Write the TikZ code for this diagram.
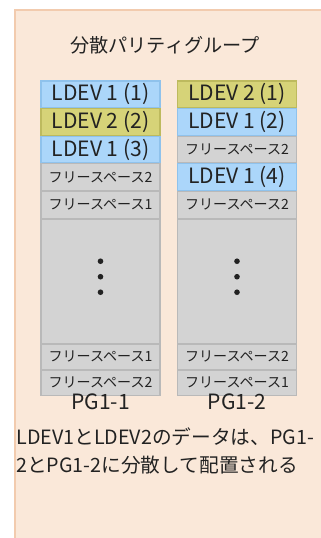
\documentclass[tikz,border=0pt]{standalone}
\usepackage{fontspec}
\setmainfont{Noto Sans CJK JP}
\usetikzlibrary{positioning}
\definecolor{ink}{HTML}{222222}
\definecolor{panel}{HTML}{FAE8D9}
\definecolor{paneldk}{HTML}{F2CBAE}
\definecolor{blu}{HTML}{ABD6FA}
\definecolor{bludk}{HTML}{8FC2EC}
\definecolor{olv}{HTML}{D6D378}
\definecolor{olvdk}{HTML}{BDBA5E}
\definecolor{gry}{HTML}{D3D3D3}
\definecolor{grydk}{HTML}{B9B9B9}
\tikzset{
  cell/.style={rectangle, draw=#1dk, fill=#1, line width=0.6pt, inner sep=0pt,
    minimum width=2.38cm, minimum height=0.532cm, text=ink,
    font=\fontsize{12}{13}\selectfont},
  cell/.default=blu,
  free/.style={cell=gry, font=\fontsize{8}{10}\selectfont},
  gap/.style={cell=gry, minimum height=2.48cm},
  low/.style={free, minimum height=0.5cm},
  pgl/.style={font=\fontsize{12}{13}\selectfont, text=ink, inner sep=0pt},
}
\begin{document}
\begin{tikzpicture}[x=0.02cm,y=-0.02cm]
  \useasboundingbox (0,0) rectangle (321,538);
  \draw[fill=panel, draw=paneldk, line width=0.8pt] (15,10) rectangle (340,560);
  \node[pgl, font=\fontsize{10.9}{12}\selectfont] (title) at (165,45) {分散パリティグループ};

  % PG1-1
  \node[cell=blu] (a1) at (100.5,94.3) {LDEV 1 (1)};
  \node[cell=olv, below=0pt of a1] (a2) {LDEV 2 (2)};
  \node[cell=blu, below=0pt of a2] (a3) {LDEV 1 (3)};
  \node[free, below=0pt of a3] (a4) {フリースペース2};
  \node[free, below=0pt of a4] (a5) {フリースペース1};
  \node[gap, below=0pt of a5] (a6) {};
  \node[low, below=0pt of a6] (a7) {フリースペース1};
  \node[low, below=0pt of a7] (a8) {フリースペース2};
  \node[pgl, below=-1.5pt of a8] (pga) {PG1-1};

  % PG1-2
  \node[cell=olv] (b1) at (237,94.3) {LDEV 2 (1)};
  \node[cell=blu, below=0pt of b1] (b2) {LDEV 1 (2)};
  \node[free, below=0pt of b2] (b3) {フリースペース2};
  \node[cell=blu, below=0pt of b3] (b4) {LDEV 1 (4)};
  \node[free, below=0pt of b4] (b5) {フリースペース2};
  \node[gap, below=0pt of b5] (b6) {};
  \node[low, below=0pt of b6] (b7) {フリースペース2};
  \node[low, below=0pt of b7] (b8) {フリースペース1};
  \node[pgl, below=-1.5pt of b8] (pgb) {PG1-2};

  % dots
  \foreach \c in {a6,b6}
    \foreach \d in {-20,-4.5,11}
      \fill[ink] ([yshift=-\d*0.02cm]\c.center) circle (1.6pt);

  \node[pgl, anchor=north west, align=left, font=\fontsize{11.2}{15.9}\selectfont]
    (note) at (16,427) {LDEV1とLDEV2のデータは、PG1-\\2とPG1-2に分散して配置される};
\end{tikzpicture}
\end{document}
